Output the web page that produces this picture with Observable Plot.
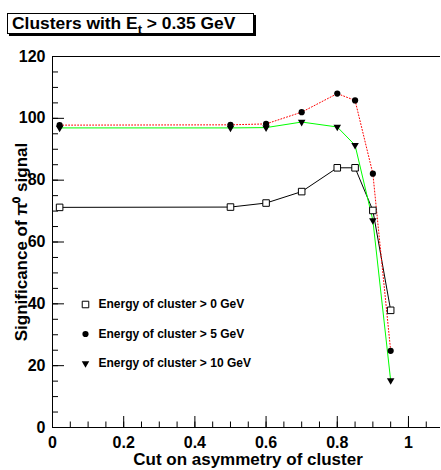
<!DOCTYPE html>
<html>
<head>
<meta charset="utf-8">
<script src="https://cdn.jsdelivr.net/npm/d3@7"></script>
<script src="https://cdn.jsdelivr.net/npm/@observablehq/plot@0.6"></script>
<style>
  body { margin: 0; background: #fff; }
  #wrap { position: relative; width: 441px; height: 470px; font-family: "Liberation Sans", Arial, Helvetica, sans-serif; }
  #title { position: absolute; left: 7px; top: 13px; width: 241px; height: 19px; border: 1px solid #000; box-shadow: 2px 2px 0 #000; background: #fff;
           font-weight: bold; font-size: 17.4px; line-height: 19px; padding-left: 4px; white-space: nowrap; }
  #title sub { font-size: 13px; vertical-align: -5px; line-height: 0; }
</style>
</head>
<body>
<div id="wrap"><div id="title">Clusters with E<sub>t</sub> &gt; 0.35 GeV</div></div>
<script>
const cuts   = [0.02, 0.5, 0.6, 0.7, 0.8, 0.85, 0.9, 0.95];
const sigE0  = [71.2, 71.3, 72.6, 76.3, 84.0, 84.0, 70.2, 37.9];
const sigE5  = [97.8, 97.9, 98.2, 102.0, 108.0, 105.8, 82.1, 24.8];
const sigE10 = [96.9, 96.9, 97.0, 98.8, 97.2, 91.3, 67.0, 15.2];
const seriesNames = ["Energy of cluster > 0 GeV", "Energy of cluster > 5 GeV", "Energy of cluster > 10 GeV"];
const xTicks = [0, 0.2, 0.4, 0.6, 0.8, 1];
const yTicks = [0, 20, 40, 60, 80, 100, 120];
const xLabel = "Cut on asymmetry of cluster";
const yLabel = "Significance of \u03c0\u2070 signal";

const xMinor = d3.range(0, 22).map(i => +(i * 0.05).toFixed(2));
const yMinor = d3.range(0, 25).map(i => i * 5);

const toRows = vals => cuts.map((c, i) => ({cut: c, sig: vals[i]}));
const d0 = toRows(sigE0), d5 = toRows(sigE5), d10 = toRows(sigE10);

const styles = [
  {stroke: "#000", symbol: "square", fill: "#fff", mstroke: "#000", r: 3.7, rotate: 0},
  {stroke: "#ff0000", symbol: "circle", fill: "#000", mstroke: "none", r: 3.1, rotate: 0},
  {stroke: "#00ff00", symbol: "triangle", fill: "#000", mstroke: "none", r: 2.8, rotate: 180}
];

const legendMarks = seriesNames.flatMap((name, i) => [
  Plot.dot([name], {frameAnchor: "top-left", dx: 33, dy: 248 + i * 29.5, symbol: styles[i].symbol,
    r: styles[i].r, fill: styles[i].fill, stroke: styles[i].mstroke, strokeWidth: 1, rotate: styles[i].rotate}),
  Plot.text([name], {frameAnchor: "top-left", dx: 46, dy: 248 + i * 29.5, textAnchor: "start",
    lineAnchor: "middle", fontSize: 12, fontWeight: "bold", fill: "#000"})
]);

const seriesMarks = [d0, d5, d10].map((d, i) =>
  Plot.line(d, {x: "cut", y: "sig", stroke: styles[i].stroke, strokeWidth: 1,
    strokeDasharray: i === 1 ? "1,2" : null})
);
const dotMarks = [d0, d5, d10].map((d, i) =>
  Plot.dot(d, {x: "cut", y: "sig", symbol: styles[i].symbol, r: styles[i].r, fill: styles[i].fill,
    stroke: styles[i].mstroke, strokeWidth: 1, rotate: styles[i].rotate})
);

const chart = Plot.plot({
  width: 441,
  height: 470,
  marginLeft: 52,
  marginRight: 1,
  marginTop: 56,
  marginBottom: 43,
  style: {fontFamily: "'Liberation Sans', Arial, Helvetica, sans-serif", fontWeight: "bold", fontSize: "16px", color: "#000", background: "transparent"},
  x: {domain: [0, 1.09]},
  y: {domain: [0, 120]},
  marks: [
    Plot.ruleX([0], {stroke: "#000", strokeWidth: 1}),
    Plot.ruleY([0], {stroke: "#000", strokeWidth: 1}),
    Plot.ruleY([120], {stroke: "#000", strokeWidth: 1}),
    Plot.axisX({ticks: xMinor, tickSize: -5.5, fill: "none", stroke: "#000", label: null}),
    Plot.axisX({ticks: xTicks, tickSize: -11, fill: "none", stroke: "#000", label: null}),
    Plot.axisY({ticks: yMinor, tickSize: -6, fill: "none", stroke: "#000", label: null}),
    Plot.axisY({ticks: yTicks, tickSize: -12, fill: "none", stroke: "#000", label: null}),
    Plot.axisX({ticks: xTicks, tickSize: 0, tickPadding: 9, stroke: "none", fill: "#000", label: null,
      tickFormat: d => String(d), fontSize: 16, fontWeight: "bold"}),
    Plot.axisY({ticks: yTicks, tickSize: 0, tickPadding: 7, stroke: "none", fill: "#000", label: null,
      tickFormat: d => String(d), fontSize: 16, fontWeight: "bold"}),
    Plot.text([xLabel], {frameAnchor: "bottom", dx: 1.5, dy: 37, lineAnchor: "bottom", textAnchor: "middle", fontSize: 17, fontWeight: "bold", fill: "#000"}),
    Plot.text([yLabel], {frameAnchor: "left", dx: -26, rotate: -90, lineAnchor: "bottom", textAnchor: "middle", fontSize: 17, fontWeight: "bold", fill: "#000"}),
    ...seriesMarks,
    ...dotMarks,
    ...legendMarks
  ]
});
chart.style.position = "absolute";
chart.style.left = "0";
chart.style.top = "0";
const wrap = document.getElementById("wrap");
wrap.insertBefore(chart, wrap.firstChild);
</script>
</body>
</html>
